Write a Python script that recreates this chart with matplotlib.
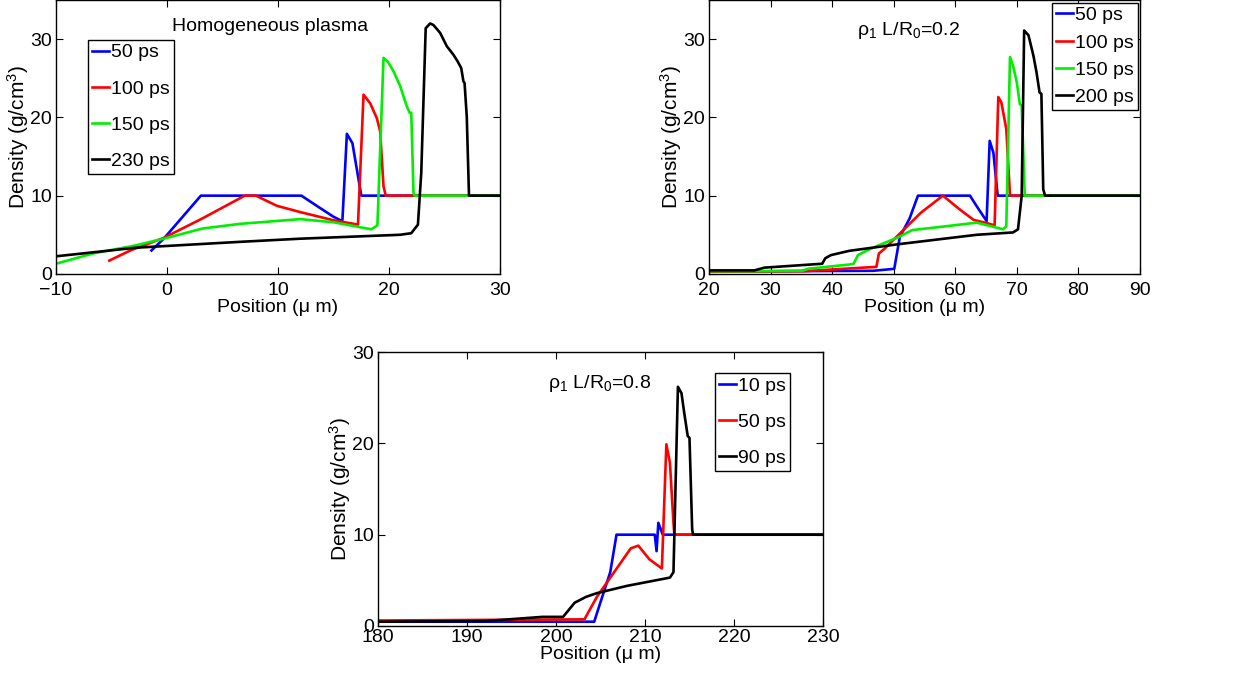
import matplotlib
matplotlib.use("Agg")
import matplotlib.pyplot as plt

plt.rcParams['font.family'] = ['Liberation Sans', 'DejaVu Sans']
plt.rcParams['mathtext.fontset'] = 'custom'
plt.rcParams['mathtext.rm'] = 'Liberation Sans'
plt.rcParams['mathtext.it'] = 'Liberation Sans:italic'

# --- panel 1: homogeneous plasma ---
h_x50 = [-1.4, -0.3, 3.05, 12.1, 13.7, 15.0, 15.7, 15.8, 16.2, 16.7, 17.5, 30]
h_y50 = [3.0, 4.5, 10.0, 10.0, 8.5, 7.3, 6.8, 6.9, 17.9, 16.7, 10.0, 10.0]
h_x100 = [-5.2, -3.3, -0.3, 3.2, 7.0, 8.0, 9.9, 12.0, 15.0, 17.2, 17.7, 18.3, 18.9, 19.2, 19.5, 19.7, 30]
h_y100 = [1.7, 3.0, 4.6, 7.1, 10.0, 10.0, 8.7, 7.9, 6.85, 6.3, 22.9, 21.8, 19.9, 18.2, 11.2, 10.0, 10.0]
h_x150 = [-10, -6.7, -2.8, -0.3, 3.2, 6.6, 12.0, 15.0, 18.4, 18.95, 19.5, 19.9, 20.4, 21.0, 21.6,
          21.85, 22.0, 22.2, 22.3, 30]
h_y150 = [1.3, 2.6, 3.65, 4.5, 5.8, 6.4, 7.0, 6.6, 5.7, 6.2, 27.6, 27.1, 25.9, 24.0, 21.4,
          20.6, 20.6, 10.4, 10.0, 10.0]
h_x230 = [-10, -2.8, 6.6, 12, 21, 22, 22.6, 22.9, 23.3, 23.7, 24.0, 24.6, 25.2, 25.8, 26.2, 26.5, 26.7,
          26.8, 27.0, 27.2, 30]
h_y230 = [2.25, 3.35, 4.1, 4.5, 5.0, 5.2, 6.3, 12.9, 31.4, 32.0, 31.8, 30.8, 29.1, 28.0, 27.1, 26.3, 24.6,
          24.4, 20.1, 10.0, 10.0]

# --- panel 2: rho1 L/R0 = 0.2 ---
a_x50 = [20, 46.7, 50.1, 51.0, 52.6, 53.95, 62.4, 63.45, 65.1, 65.6, 66.2, 66.9, 90]
a_y50 = [0.3, 0.4, 0.65, 4.7, 7.1, 10.0, 10.0, 8.7, 6.75, 17.0, 15.5, 10.0, 10.0]
a_x100 = [20, 35.6, 42.8, 47.2, 47.6, 48.5, 50.8, 54.4, 58.0, 60.8, 63.0, 65.1, 66.4, 67.0, 67.5,
          68.3, 68.9, 90]
a_y100 = [0.3, 0.35, 0.7, 0.9, 2.6, 3.2, 5.0, 7.8, 10.0, 8.2, 6.9, 6.5, 6.2, 22.6, 21.9,
          18.5, 10.0, 10.0]
a_x150 = [20, 27.4, 35.2, 36.1, 42.8, 43.5, 44.2, 46.2, 50.8, 53.0, 57.5, 63.5, 67.8, 68.3, 68.9, 69.4,
          70.0, 70.5, 70.8, 71.3, 90]
a_y150 = [0.35, 0.35, 0.4, 0.66, 1.2, 1.3, 2.4, 3.2, 4.7, 5.6, 6.0, 6.55, 5.7, 6.1, 27.7, 26.6,
          24.5, 21.7, 21.5, 10.0, 10.0]
a_x200 = [20, 27.4, 29.0, 38.4, 38.9, 39.8, 42.8, 50.8, 63.5, 69.4, 70.2, 70.8, 71.2, 71.9, 72.7, 73.2,
          73.7, 74.0, 74.3, 74.6, 90]
a_y200 = [0.45, 0.45, 0.8, 1.3, 2.0, 2.4, 2.95, 3.8, 5.0, 5.3, 5.7, 10.0, 31.1, 30.5, 27.9, 25.8,
          23.2, 23.0, 10.8, 10.0, 10.0]

# --- panel 3: rho1 L/R0 = 0.8 ---
b_x10 = [180, 204.3, 204.6, 206.1, 206.8, 211.1, 211.3, 211.5, 212.0, 230]
b_y10 = [0.47, 0.47, 1.4, 5.9, 10.0, 10.0, 8.2, 11.3, 10.0, 10.0]
b_x50 = [180, 203.2, 204.6, 208.4, 209.25, 210.5, 211.9, 212.4, 212.8, 213.2, 213.3, 230]
b_y50 = [0.6, 0.73, 3.2, 8.5, 8.8, 7.3, 6.3, 19.9, 17.9, 11.3, 10.0, 10.0]
b_x90 = [180, 192.2, 198.5, 200.8, 202.1, 203.4, 204.6, 208.0, 212.8, 213.2, 213.7, 214.1, 214.4, 214.8,
         215.0, 215.3, 215.4, 230]
b_y90 = [0.47, 0.55, 1.0, 1.0, 2.55, 3.2, 3.6, 4.4, 5.3, 5.9, 26.2, 25.5, 23.4, 20.8,
         20.6, 10.6, 10.0, 10.0]

colors = ['#0000ff', '#ff0000', '#00ee00', '#000000']
lw = 1.9
fs = 14

fig = plt.figure(figsize=(12.59, 6.78), dpi=100)
ax1 = fig.add_axes([0.0445, 0.596, 0.3527, 0.404])
ax2 = fig.add_axes([0.5631, 0.596, 0.3423, 0.404])
ax3 = fig.add_axes([0.3002, 0.0767, 0.3535, 0.404])


def style(ax, xlim, ylim, xticks, yticks):
    ax.set_xlim(*xlim)
    ax.set_ylim(*ylim)
    ax.set_xticks(xticks)
    ax.set_yticks(yticks)
    ax.tick_params(direction='in', top=True, right=True, length=5, width=0.8,
                   labelsize=fs)
    ax.tick_params(axis='x', pad=6)
    ax.tick_params(axis='y', pad=3)
    for s in ax.spines.values():
        s.set_linewidth(1.0)
    ax.set_xlabel(u'Position (\u03bc m)', fontsize=fs, labelpad=0)
    ax.set_ylabel('Density (g/cm$^3$)', fontsize=fs + 1, labelpad=-1)


def legend(ax, anchor, loc, spacing):
    lg = ax.legend(loc=loc, bbox_to_anchor=anchor, borderaxespad=0, fontsize=fs,
                   fancybox=False, edgecolor='black', framealpha=1,
                   handlelength=0.9, handletextpad=0.1, borderpad=0.2,
                   labelspacing=spacing)
    lg.get_frame().set_linewidth(1.0)


for x, y, c, lab in zip([h_x50, h_x100, h_x150, h_x230], [h_y50, h_y100, h_y150, h_y230],
                        colors, ['50 ps', '100 ps', '150 ps', '230 ps']):
    ax1.plot(x, y, color=c, lw=lw, label=lab)
style(ax1, (-10, 30), (0, 35), [-10, 0, 10, 20, 30], [0, 10, 20, 30])
ax1.text(0.45, 31.6, 'Homogeneous plasma', fontsize=fs, va='center')
legend(ax1, (0.072, 0.854), 'upper left', 0.95)

for x, y, c, lab in zip([a_x50, a_x100, a_x150, a_x200], [a_y50, a_y100, a_y150, a_y200],
                        colors, ['50 ps', '100 ps', '150 ps', '200 ps']):
    ax2.plot(x, y, color=c, lw=lw, label=lab)
style(ax2, (20, 90), (0, 35), list(range(20, 91, 10)), [0, 10, 20, 30])
ax2.text(44.0, 31.1, u'\u03c1$_1$ L/R$_0$=0.2', fontsize=fs, va='center')
legend(ax2, (0.995, 0.99), 'upper right', 0.5)

for x, y, c, lab in zip([b_x10, b_x50, b_x90], [b_y10, b_y50, b_y90],
                        [colors[0], colors[1], colors[3]], ['10 ps', '50 ps', '90 ps']):
    ax3.plot(x, y, color=c, lw=lw, label=lab)
style(ax3, (180, 230), (0, 30), list(range(180, 231, 10)), [0, 10, 20, 30])
ax3.tick_params(axis='x', pad=2)
ax3.text(199.1, 26.6, u'\u03c1$_1$ L/R$_0$=0.8', fontsize=fs, va='center')
legend(ax3, (0.926, 0.923), 'upper right', 0.95)

fig.savefig('out.png', dpi=100)
